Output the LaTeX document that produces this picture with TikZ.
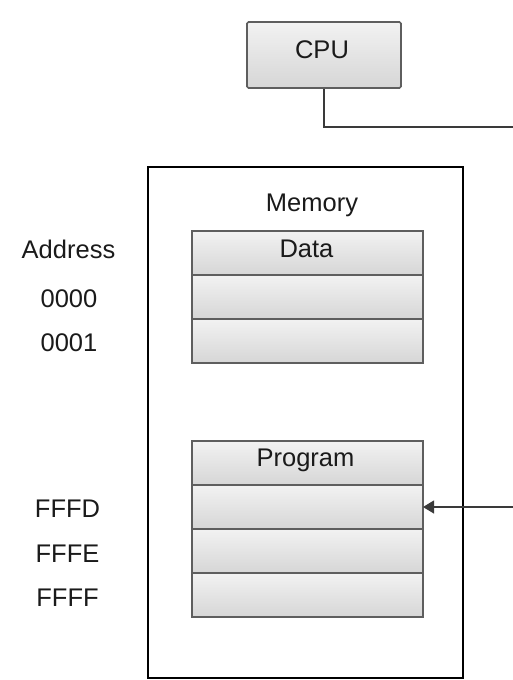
\documentclass[tikz,border=0pt]{standalone}
\usepackage{fontspec}
\setmainfont{Liberation Sans}
\usetikzlibrary{arrows.meta}
\definecolor{cellborder}{HTML}{5E5E5E}
\definecolor{celltop}{HTML}{F2F2F2}
\definecolor{cellbot}{HTML}{D6D6D6}
\definecolor{txt}{HTML}{1A1A1A}
\definecolor{wire}{HTML}{3A3A3A}
\tikzset{
  cell/.style={draw=cellborder, line width=1.4pt, top color=celltop, bottom color=cellbot,
    minimum width=231pt, minimum height=44pt, inner sep=0pt, outer sep=0pt},
  cpubox/.style={draw=cellborder, line width=1.6pt, top color=celltop, bottom color=cellbot,
    minimum width=154pt, minimum height=66pt, inner sep=0pt, rounded corners=1.5pt},
  membox/.style={draw=black, line width=2.6pt, minimum width=315pt, minimum height=511pt, inner sep=0pt},
  lbl/.style={text=txt, font=\fontsize{25.5}{30}\selectfont, anchor=base, inner sep=0pt},
  wireline/.style={draw=wire, line width=1.2pt},
}
\begin{document}
\begin{tikzpicture}[x=1pt,y=-1pt]
\useasboundingbox (0,0) rectangle (513,680);
% CPU
\node[cpubox] (cpu) at (324,55) {};
\node[lbl] (cputxt) at (322,58.5) {CPU};
% Memory outer box
\node[membox] (mem) at (305.5,422.5) {};
\node[lbl] (memtxt) at (312,211.5) {Memory};
% Data block
\node[cell] (d1) at (307.5,253) {};
\node[cell] (d2) at (307.5,297) {};
\node[cell] (d3) at (307.5,341) {};
\node[lbl] (datatxt) at (306.5,257) {Data};
% Program block
\node[cell] (p1) at (307.5,463) {};
\node[cell] (p2) at (307.5,507) {};
\node[cell] (p3) at (307.5,551) {};
\node[cell] (p4) at (307.5,595) {};
\node[lbl] (progtxt) at (305.5,466.5) {Program};
% Address labels
\node[lbl] (addr) at (68.5,258) {Address};
\node[lbl] (a0) at (69,307) {0000};
\node[lbl] (a1) at (69,351) {0001};
\node[lbl] (fd) at (67.5,517) {FFFD};
\node[lbl] (fe) at (67.5,562) {FFFE};
\node[lbl] (ff) at (67.5,606) {FFFF};
% connectors
\coordinate (bend) at (cpu.south |- 0,127);
\coordinate (outA) at (513,127);
\coordinate (inB) at (513,507);
\draw[wireline] (cpu.south) -- (bend) -- (outA);
\draw[wireline, -{Triangle[length=11pt,width=13pt]}] (inB) -- (p2.east);
\end{tikzpicture}
\end{document}
